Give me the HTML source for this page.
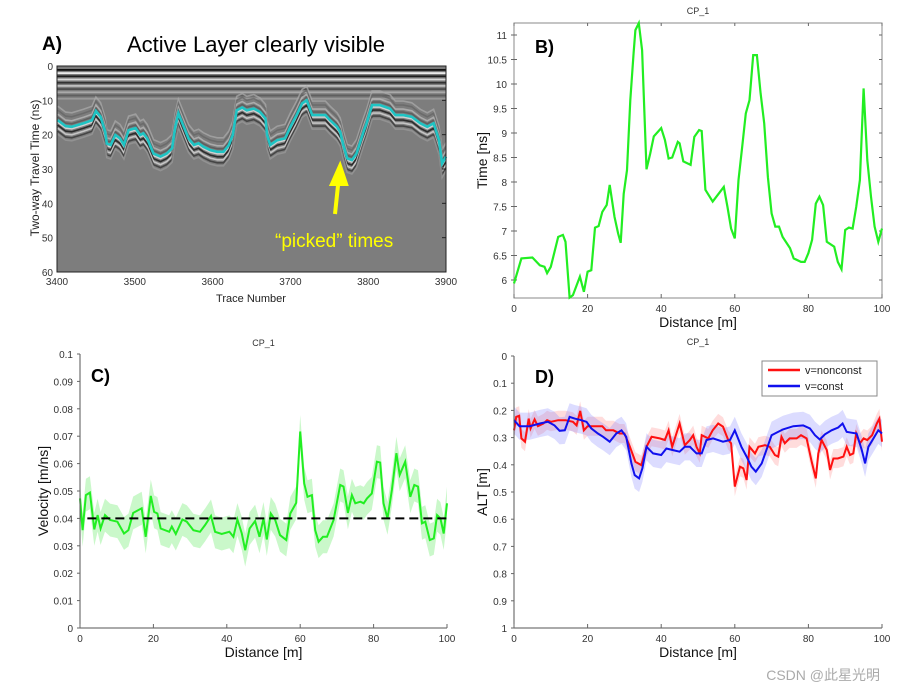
<!DOCTYPE html>
<html><head><meta charset="utf-8"><style>
body{margin:0;background:#fff;}
svg{display:block;font-family:"Liberation Sans",Arial,sans-serif;}
.tk{font-size:10px;fill:#333;}
.ax{font-size:14px;fill:#111;}
</style></head><body>
<svg id="fig" width="924" height="692" viewBox="0 0 924 692">
<g id="pA"></g>
<g id="pB"></g>
<g id="pC"></g>
<g id="pD"></g>
<text x="880" y="680" font-size="14" fill="#aaa" font-family="Liberation Sans, Noto Sans CJK SC, sans-serif" text-anchor="end">CSDN @此星光明</text>
</svg>
<script>
// Panel A data
const aTraces=[3401,3411,3419,3434,3445,3450,3456,3462,3464,3469,3475,3481,3486,3492,3501,3507,3511,3516,3524,3533,3541,3548,3552,3556,3563,3569,3576,3582,3588,3597,3606,3614,3621,3626,3631,3638,3644,3653,3661,3668,3670,3674,3683,3693,3700,3708,3715,3721,3728,3736,3745,3751,3760,3764,3768,3773,3779,3785,3794,3798,3805,3815,3828,3835,3845,3856,3867,3876,3884,3891,3895,3900];
const aPicks=[15.8,17.5,17.7,16.7,15.8,13.1,14.8,19.2,22.6,23.0,20.1,21.1,23.0,18.7,18.1,20.1,19.6,21.1,25.5,26.4,25.5,24.0,17.7,13.8,17.7,21.1,23.0,22.5,23.5,24.5,25.0,25.0,23.0,20.1,12.9,12.1,12.9,12.4,13.4,15.3,20.1,23.0,21.6,21.1,17.7,14.3,10.9,10.0,14.3,14.3,14.3,15.8,17.7,19.2,23.0,26.9,27.4,25.5,19.2,16.7,11.4,11.4,12.4,14.3,14.3,14.8,16.7,17.7,16.7,21.6,28.4,26.4];
const aYTicks=[0,10,20,30,40,50,60];
const aXTicks=[3400,3500,3600,3700,3800,3900];
// Panel B data
const bDist=[0,2,5,7,8.3,9,10,12,13.3,14,15.1,16,17.9,19,20,21,22,23,24,25.2,26,27.3,28.3,29,29.8,30.7,31.6,32.5,33,33.9,34.8,36,37,38,40,41,42,43,44.5,45,46,48,49,50.3,51,52,54,57,58,59,60,61,62,63,64,65,66,67,68,69,70,71,72,73,75,76,78,79,80,81,82,83,84,85,87,88,89,90,91,92,93,94,95,96,97,98,99,100];
const bTime=[5.93,6.44,6.46,6.3,6.27,6.14,6.27,6.88,6.92,6.78,5.64,5.69,6.07,5.76,6.17,6.2,7.07,7.1,7.39,7.53,7.94,7.29,6.95,6.76,7.76,8.24,9.67,10.63,11.1,11.24,10.69,8.26,8.58,8.93,9.1,8.86,8.48,8.5,8.82,8.79,8.42,8.35,8.92,9.06,9.04,7.84,7.6,7.9,7.5,7.05,6.85,8.04,8.72,9.4,9.67,10.59,10.59,9.81,9.2,8.1,7.36,7.09,7.09,6.88,6.65,6.44,6.37,6.37,6.55,6.82,7.56,7.7,7.53,6.78,6.68,6.37,6.22,7.02,7.07,7.05,7.49,8.04,9.91,8.45,7.7,7.09,6.78,7.05];
const bYTicks=[6,6.5,7,7.5,8,8.5,9,9.5,10,10.5,11];
const xTicks=[0,20,40,60,80,100];
// Panel C data
const cDist=[0,0.7,1.6,2.7,3.9,4.8,5.6,6.8,8.2,10.2,12,13.2,14.5,16.8,17.9,19.3,20.2,21.1,22,24.3,25,26.1,27.9,29.1,30.9,32.7,34.1,35.7,36.8,38.6,40.7,41.8,42.9,44.1,45,46.2,47.7,48.9,50,50.9,52,53.2,54.5,56.2,57.3,58.9,60,61.1,62,63.2,64.1,65,66.2,67.3,69.1,70.9,71.8,73,74.1,75,76.4,77.3,78.2,79.5,80.9,81.8,82.7,83.8,85,86.2,87.1,88.6,90,91.1,92.1,93.2,94.1,95.3,96.4,97.3,98.2,99.1,100];
const cVel=[.0473,.0357,.0485,.0494,.036,.0412,.0363,.0412,.0394,.0388,.0345,.0357,.042,.0437,.0333,.0482,.0424,.0418,.0363,.0351,.037,.0343,.0396,.0388,.0357,.0351,.0376,.0409,.0351,.0343,.0351,.0333,.0396,.0345,.0284,.0363,.039,.0333,.04,.0323,.0418,.0394,.0339,.0321,.0418,.0457,.0717,.0528,.0479,.0485,.0357,.0315,.0333,.0333,.0394,.0522,.0516,.042,.0485,.0455,.0461,.0455,.0473,.0491,.0607,.0604,.0455,.04,.0504,.0638,.0559,.0607,.0479,.0522,.0516,.0382,.0388,.0321,.0327,.0412,.04,.0345,.0455];
const cErr=[.006];
const cConst=[0.04];
const cYTicks=[0,0.01,0.02,0.03,0.04,0.05,0.06,0.07,0.08,0.09,0.1];
// Panel D data
const dRedX=[0,.6,1.4,2,3,4,4.5,5.6,6.5,8,9,10,12,14,16,17,18,19,20,21.5,24,25,27,28.7,30,31.5,33,34.6,36,37.4,39.6,41,42,43,45,46.4,47.8,48.7,49.6,50.5,51,52.8,54,55.5,56.8,58.2,59,60,61.4,62.3,63.2,64,65.5,66.4,68.2,69.5,70.9,71.8,72.7,73.6,74.9,76.8,78,79.5,80.9,82,82.7,83.6,85,85.9,86.8,88,89.5,90.4,91.3,92.2,93,94,95,96,97.3,98.6,99.3,100];
const dRed=[.273,.224,.22,.303,.315,.23,.266,.233,.258,.248,.236,.242,.236,.236,.242,.255,.202,.273,.258,.258,.258,.273,.273,.285,.285,.334,.389,.401,.334,.297,.303,.309,.273,.334,.248,.328,.309,.291,.334,.358,.291,.303,.273,.248,.26,.309,.321,.48,.407,.413,.456,.334,.358,.334,.328,.334,.364,.37,.297,.321,.303,.303,.291,.303,.389,.45,.358,.309,.346,.419,.377,.377,.37,.334,.364,.358,.285,.321,.303,.309,.291,.248,.23,.315];
const dBlueX=[0,1.5,4.3,7,9.2,11,12.4,13.8,15.1,16.5,18.3,19.7,21,22.8,24.2,26,27.8,29.2,30.5,31.9,32.8,34,34.9,36,37.8,40,41.4,43.2,45,46.4,47.8,49.6,51,52.3,54.1,56.8,58.7,60,61.8,63.2,64.5,65.7,67.3,68.6,70,71.3,73.1,75.9,78.6,80.4,81.8,83.1,84.5,86.3,88.1,89.3,90.4,91.7,93.1,94.5,95.4,96.3,97.7,99,100];
const dBlue=[.236,.258,.258,.248,.242,.255,.275,.273,.224,.23,.236,.242,.266,.285,.297,.315,.285,.273,.297,.395,.438,.45,.413,.334,.358,.364,.34,.346,.352,.334,.334,.358,.358,.309,.303,.315,.309,.273,.334,.37,.407,.425,.395,.346,.291,.282,.27,.258,.255,.266,.291,.307,.288,.273,.263,.248,.279,.282,.285,.346,.395,.334,.303,.273,.285];
const dRedErr=[0.035];
const dBlueErr=[0.05];
const dYTicks=[0,0.1,0.2,0.3,0.4,0.5,0.6,0.7,0.8,0.9,1];
const legendLabels=["v=nonconst","v=const"];

const NS="http://www.w3.org/2000/svg";
function mk(parent,tag,attrs,text){const e=document.createElementNS(NS,tag);for(const k in attrs)e.setAttribute(k,attrs[k]);if(text!==undefined)e.textContent=text;parent.appendChild(e);return e;}
function lin(d0,d1,r0,r1){return v=>r0+(v-d0)/(d1-d0)*(r1-r0);}
function pathD(xs,ys,sx,sy){return xs.map((x,i)=>(i?'L':'M')+sx(x).toFixed(1)+','+sy(ys[i]).toFixed(1)).join('');}
function bandD(xs,ys,e,sx,sy){let s=xs.map((x,i)=>(i?'L':'M')+sx(x).toFixed(1)+','+sy(ys[i]+e).toFixed(1)).join('');for(let i=xs.length-1;i>=0;i--)s+='L'+sx(xs[i]).toFixed(1)+','+sy(ys[i]-e).toFixed(1);return s+'Z';}

// ---------- Panel A ----------
(function(){
const g=document.getElementById('pA');
const L=57,R=446,T=66,B=272;
const sx=lin(3400,3900,L,R), sy=lin(0,60,T,B);
const clipDefs=mk(g,'defs',{});
const cp=mk(clipDefs,'clipPath',{id:'clipA'});mk(cp,'rect',{x:L,y:T,width:R-L,height:B-T});
const bg=mk(g,'rect',{x:L,y:T,width:R-L,height:B-T,fill:'#7d7d7d'});


const tex=mk(g,'g',{'clip-path':'url(#clipA)'});
const stripeCols=['#111','#f2f2f2','#111','#eee','#1a1a1a','#ddd','#333','#ccc','#444','#bbb'];
for(let i=0;i<stripeCols.length;i++){mk(tex,'rect',{x:L,y:T+3+i*3.2,width:R-L,height:1.8,fill:stripeCols[i],opacity:1-i*0.06});}
const offs=[-14,-10,-6,-3,2,5,8,11,14];
const cols=['#aaa','#666','#bbb','#555','#eee','#111','#ddd','#333','#999'];
offs.forEach((o,i)=>{mk(tex,'path',{d:pathD(aTraces,aPicks,sx,v=>sy(v)+o),fill:'none',stroke:cols[i],'stroke-width':1.6,opacity:0.75});});
const line=mk(g,'path',{d:pathD(aTraces,aPicks,sx,sy),fill:'none',stroke:'#1fc4c4','stroke-width':2.6});


mk(g,'rect',{x:L,y:T,width:R-L,height:B-T,fill:'none',stroke:'#222','stroke-width':1});
aYTicks.forEach(v=>{const t=mk(g,'text',{x:L-4,y:sy(v)+4,'text-anchor':'end',class:'tk','font-size':11},v);mk(g,'line',{x1:R-4,x2:R,y1:sy(v),y2:sy(v),stroke:'#222'});});
aXTicks.forEach(v=>{const t=mk(g,'text',{x:sx(v),y:B+13,'text-anchor':'middle',class:'tk','font-size':11},v);});
const xl=mk(g,'text',{x:251,y:302,'text-anchor':'middle','font-size':11,fill:'#222'},'Trace Number');

const yl=mk(g,'text',{x:0,y:0,transform:'translate(39,168) rotate(-90)','text-anchor':'middle','font-size':12,fill:'#222'},'Two-way Travel Time (ns)');

const pl=mk(g,'text',{x:42,y:50,'font-size':19,'font-weight':'bold',fill:'#000'},'A)');

const tt=mk(g,'text',{x:127,y:52,'font-size':22,fill:'#000'},'Active Layer clearly visible');

const ar=mk(g,'path',{d:'M335,214 L339,176 M332,184 L340,166 L346,184 Z',stroke:'#ffff00','stroke-width':4,fill:'#ffff00'});

const pk=mk(g,'text',{x:275,y:247,'font-size':19,fill:'#ffff00'},'“picked” times');

})();

function axes(g,L,R,T,B,sx,sy,yTicks,box,xlabel,ylabel,ylx,title,titleY,lab,labX,labY){
  if(box){mk(g,'rect',{x:L,y:T,width:R-L,height:B-T,fill:'none',stroke:'#888'});}
  else{mk(g,'line',{x1:L,x2:R,y1:B,y2:B,stroke:'#555'});mk(g,'line',{x1:L,x2:L,y1:B,y2:T,stroke:'#555'});}
  yTicks.forEach(v=>{const t=mk(g,'text',{x:L-7,y:sy(v)+4,'text-anchor':'end',class:'tk'},v);
    mk(g,'line',{x1:L-3,x2:L+(box?3:0),y1:sy(v),y2:sy(v),stroke:'#666'});if(box)mk(g,'line',{x1:R-3,x2:R,y1:sy(v),y2:sy(v),stroke:'#666'});});
  xTicks.forEach(v=>{const t=mk(g,'text',{x:sx(v),y:B+14,'text-anchor':'middle',class:'tk'},v);
    mk(g,'line',{x1:sx(v),x2:sx(v),y1:B,y2:B-4,stroke:'#666'});if(box)mk(g,'line',{x1:sx(v),x2:sx(v),y1:T,y2:T+3,stroke:'#666'});});
  const xl=mk(g,'text',{x:(L+R)/2,y:B+29,'text-anchor':'middle',class:'ax'},xlabel);
  const yl=mk(g,'text',{x:0,y:0,transform:`translate(${ylx},${(T+B)/2}) rotate(-90)`,'text-anchor':'middle',class:'ax'},ylabel);
  const tt=mk(g,'text',{x:(L+R)/2,y:titleY,'text-anchor':'middle','font-size':9,fill:'#333'},'CP_1');
  const pl=mk(g,'text',{x:labX,y:labY,'font-size':18,'font-weight':'bold',fill:'#000'},lab);
}

// ---------- Panel B ----------
(function(){
const g=document.getElementById('pB');
const L=514,R=882,T=23,B=298;
const sx=lin(0,100,L,R), sy=lin(6,11,280,35);
axes(g,L,R,T,B,sx,sy,bYTicks,true,'Distance [m]','Time [ns]',487,'CP_1',14,'B)',535,53);
const p=mk(g,'path',{d:pathD(bDist,bTime,sx,sy),fill:'none',stroke:'#22ee22','stroke-width':2.2});

})();

// ---------- Panel C ----------
(function(){
const g=document.getElementById('pC');
const L=80,R=447,T=354,B=628;
const sx=lin(0,100,L,R), sy=lin(0,0.1,B,T);
const band=mk(g,'path',{d:bandD(cDist,cVel,cErr[0],sx,sy),fill:'#b8f5b8',opacity:0.75});

const p=mk(g,'path',{d:pathD(cDist,cVel,sx,sy),fill:'none',stroke:'#22ee22','stroke-width':2});

const dl=mk(g,'line',{x1:sx(2),x2:sx(100),y1:sy(cConst[0]),y2:sy(cConst[0]),stroke:'#000','stroke-width':2,'stroke-dasharray':'9,5'});

axes(g,L,R,T,B,sx,sy,cYTicks,false,'Distance [m]','Velocity [m/ns]',48,'CP_1',346,'C)',91,382);
})();

// ---------- Panel D ----------
(function(){
const g=document.getElementById('pD');
const L=514,R=882,T=356,B=628;
const sx=lin(0,100,L,R), sy=lin(0,1,T,B);
const rb=mk(g,'path',{d:bandD(dRedX,dRed,dRedErr[0],sx,sy),fill:'#ff8080',opacity:0.28});

const bb=mk(g,'path',{d:bandD(dBlueX,dBlue,dBlueErr[0],sx,sy),fill:'#8080ff',opacity:0.28});

const rl=mk(g,'path',{d:pathD(dRedX,dRed,sx,sy),fill:'none',stroke:'#ff1010','stroke-width':2});

const bl=mk(g,'path',{d:pathD(dBlueX,dBlue,sx,sy),fill:'none',stroke:'#1010ee','stroke-width':2});

axes(g,L,R,T,B,sx,sy,dYTicks,false,'Distance [m]','ALT [m]',487,'CP_1',345,'D)',535,383);
const lg=mk(g,'g',{});
mk(lg,'rect',{x:762,y:361,width:115,height:35,fill:'#fff',stroke:'#888'});
const cl=['#ff1010','#1010ee'];
legendLabels.forEach((s,i)=>{const e=mk(lg,'g',{});
  mk(e,'line',{x1:768,x2:800,y1:370+i*16,y2:370+i*16,stroke:cl[i],'stroke-width':2.5});
  mk(e,'text',{x:805,y:374+i*16,'font-size':11,fill:'#222'},s);});
})();
</script>
</body></html>
